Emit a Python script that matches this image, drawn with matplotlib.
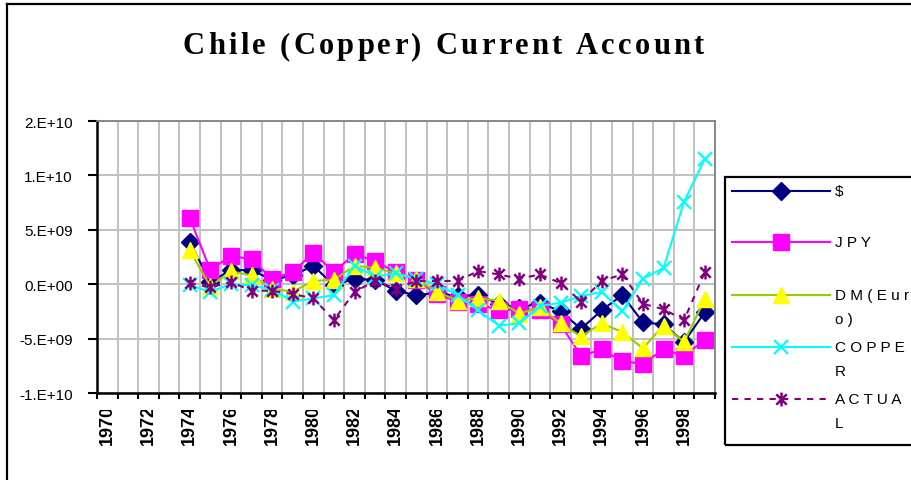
"""Chile (Copper) current account, 1974-1999, five exchange-rate scenarios."""

import matplotlib

matplotlib.use("Agg")
import numpy as np  # noqa: E402
import matplotlib.pyplot as plt  # noqa: E402
from matplotlib.lines import Line2D  # noqa: E402
from matplotlib.patches import Rectangle  # noqa: E402
from matplotlib.path import Path  # noqa: E402
from matplotlib.font_manager import FontProperties, findfont, get_font  # noqa: E402

W, H = 912, 481

TITLE = "Chile (Copper) Current Account"
axis_years = list(range(1970, 2000))
years = list(range(1974, 2000))

# values in billions (1e9)
usd = [3.9, 0.2, 1.3, 1.3, 0.4, 0.8, 1.7, -0.1, 0.5, 0.4, -0.6, -1.0, -0.8,
       -1.1, -1.0, -1.8, -2.2, -1.7, -2.5, -4.1, -2.4, -1.0, -3.5, -3.7, -5.3, -2.6]
jpy = [6.1, 1.3, 2.6, 2.3, 0.5, 1.1, 2.9, 1.1, 2.8, 2.1, 1.1, 0.4, -0.9,
       -1.6, -1.8, -2.4, -2.3, -2.4, -3.7, -6.6, -6.0, -7.1, -7.3, -6.0, -6.6, -5.1]
dm_euro = [3.1, -0.2, 1.2, 0.8, -0.4, -0.7, 0.3, 0.4, 1.7, 1.5, 1.0, 0.5, -0.7,
           -1.5, -1.3, -1.5, -2.7, -2.1, -3.6, -4.8, -3.6, -4.4, -5.9, -3.8, -5.3, -1.4]
copper = [-0.1, -0.7, 0.0, -0.1, -0.5, -1.6, -1.3, -1.0, 1.7, 0.7, 1.0, 0.5, 0.0,
          -1.0, -2.4, -3.8, -3.6, -2.0, -1.7, -1.1, -0.7, -2.5, 0.5, 1.5, 7.6, 11.5]
actual = [0.1, -0.3, 0.2, -0.6, -0.6, -0.9, -1.3, -3.3, -0.7, 0.3, -0.4, 0.3, 0.3,
          0.3, 1.2, 0.9, 0.5, 0.9, 0.1, -1.6, 0.3, 0.9, -1.8, -2.3, -3.3, 1.1]

ytick_values = [-1e10, -5e9, 0, 5e9, 1e10, 1.5e10]
ytick_labels = ["-1.E+10", "-5.E+09", "0.E+00", "5.E+09", "1.E+10", "2.E+10"]
xtick_years = axis_years[::2]

legend_lines = [("$", ""), ("J P Y", ""), ("D M ( E u r", "o )"),
                ("C O P P E", "R"), ("A C T U A", "L")]

# Excel style asterisk: vertical bar plus an X
star = Path([(0, -1), (0, 1), (-0.75, -0.75), (0.75, 0.75), (-0.75, 0.75), (0.75, -0.75)],
            [Path.MOVETO, Path.LINETO] * 3)

STYLES = [
    dict(color="#000080", marker="D", ms=9.5, mfc="#000080", mec="#000080", ls="-"),
    dict(color="#FF00FF", marker="s", ms=11, mfc="#FF00FF", mec="#FF00FF", ls="-"),
    dict(color="#99CC00", marker="^", ms=12, mfc="#FFFF00", mec="#FFFF00", ls="-"),
    dict(color="#00FFFF", marker="x", ms=10, mfc="none", mec="#00FFFF", mew=1.6, ls="-"),
    dict(color="#800080", marker=star, ms=10, mfc="none", mec="#800080", mew=1.8,
         ls=(0, (3, 3))),
]


def fx(x):
    return x / W


def fy(y):
    return 1 - y / H


def tracked_title(fig, s, x0, x1, base, fp):
    font = get_font(findfont(fp))
    font.set_size(fp.get_size_in_points(), fig.dpi)
    adv = [font.load_char(ord(c)).linearHoriAdvance / 65536 for c in s]
    gap = (x1 - x0 - sum(adv)) / (len(s) - 1)
    x = x0
    for c, a in zip(s, adv):
        fig.text(fx(x), fy(base), c, fontproperties=fp, ha="left", va="baseline")
        x += a + gap


def main():
    fig = plt.figure(figsize=(W / 100, H / 100), dpi=100)
    ax = fig.add_axes([fx(97), fy(394), (715 - 97) / W, (394 - 122) / H])

    all_series = [usd, jpy, dm_euro, copper, actual]
    for vals, st in zip(all_series, STYLES):
        ax.plot(years, np.array(vals) * 1e9, lw=1.5, clip_on=False, **st)

    ax.set_xlim(axis_years[0] - 0.5, axis_years[-1] + 0.5)
    ax.set_ylim(ytick_values[0], ytick_values[-1])

    ax.set_xticks(np.arange(axis_years[0] - 0.5, axis_years[-1] + 1))
    ax.set_xticklabels([])
    ax.set_xticks(xtick_years, [str(y) for y in xtick_years], minor=True)
    ax.tick_params(axis="x", which="major", direction="out", length=4.5, width=1.5)
    ax.tick_params(axis="x", which="minor", length=0, pad=8)
    for lab in ax.get_xticklabels(minor=True):
        lab.set_rotation(90)
        lab.set_fontfamily("Liberation Sans")
        lab.set_fontweight("bold")
        lab.set_fontsize(13)

    ax.set_yticks(ytick_values, ytick_labels)
    ax.tick_params(axis="y", direction="out", length=6.5, width=1.5, pad=11,
                   labelsize=11)
    for lab in ax.get_yticklabels():
        lab.set_fontfamily("Liberation Sans")

    ax.grid(True, which="major", color="#C0C0C0", lw=1.4)
    ax.set_axisbelow(True)
    for side in ("left", "bottom"):
        ax.spines[side].set_color("black")
        ax.spines[side].set_linewidth(1.8)
    for side in ("top", "right"):
        ax.spines[side].set_color("#808080")
        ax.spines[side].set_linewidth(1.3)

    # Excel cut the tops of the rotated year labels; mimic with a white band
    fig.add_artist(Rectangle((fx(90), fy(411)), (720 - 90) / W, (411 - 401) / H,
                             transform=fig.transFigure, fc="white", ec="none",
                             zorder=5))

    # chart area border (only left and top edges fall inside the picture)
    fig.add_artist(Line2D([fx(7), fx(7)], [0, fy(5)], color="black", lw=1.6))
    fig.add_artist(Line2D([fx(7), 1], [fy(5), fy(5)], color="black", lw=1.6))

    tracked_title(fig, TITLE, 183, 704, 54,
                  FontProperties(family="Liberation Serif", weight="bold", size=22))

    # legend
    fig.add_artist(Rectangle((fx(725), fy(446)), (940 - 725) / W, (446 - 178) / H,
                             transform=fig.transFigure, fill=False, ec="black", lw=1.6))
    rows = [192, 243, 296, 348, 400]
    for (l1, l2), st, y in zip(legend_lines, STYLES, rows):
        fig.add_artist(Line2D([fx(732), fx(830)], [fy(y), fy(y)], color=st["color"],
                              lw=1.5, ls=st["ls"]))
        mk = {k: v for k, v in st.items() if k not in ("ls", "color")}
        fig.add_artist(Line2D([fx(781)], [fy(y)], ls="none", **mk))
        fig.text(fx(835), fy(y), l1, family="Liberation Sans", size=11, va="center")
        if l2:
            fig.text(fx(835), fy(y + 24), l2, family="Liberation Sans", size=11,
                     va="center")

    fig.savefig("out.png", dpi=100)
    plt.close(fig)


if __name__ == "__main__":
    main()
